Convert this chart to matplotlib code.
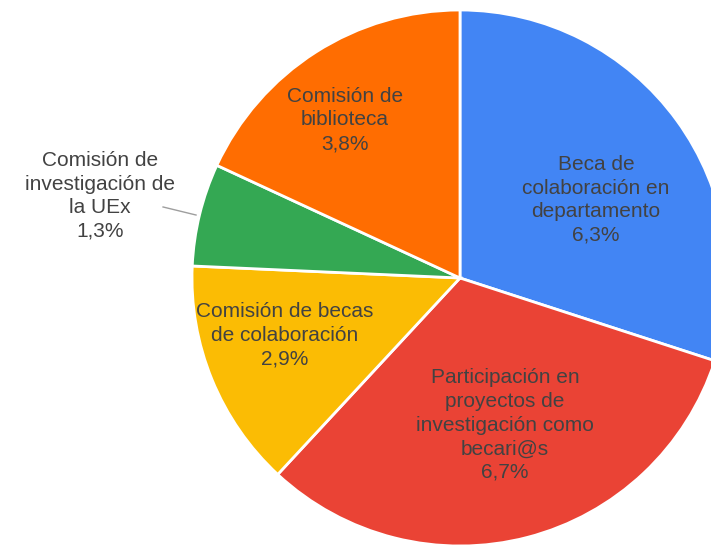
import matplotlib
matplotlib.use("Agg")
import matplotlib.pyplot as plt

categories = ["Beca de\ncolaboración en\ndepartamento",
              "Participación en\nproyectos de\ninvestigación como\nbecari@s",
              "Comisión de becas\nde colaboración",
              "Comisión de\ninvestigación de\nla UEx",
              "Comisión de\nbiblioteca"]
values = [6.3, 6.7, 2.9, 1.3, 3.8]
colors = ["#4285F4", "#EA4335", "#FBBC04", "#34A853", "#FF6D01"]

# label centres (fraction of radius, relative to pie centre)
label_pos = [(0.507, 0.291), (0.168, -0.549), (-0.653, -0.213), (-1.343, 0.306), (-0.429, 0.590)]

plt.rcParams['font.family'] = ['Liberation Sans', 'DejaVu Sans']

W, H = 711, 545
fig = plt.figure(figsize=(W / 100, H / 100), dpi=100)
cx, cy, R = 460, 278, 268
ax = fig.add_axes([(cx - R) / W, (H - cy - R) / H, 2 * R / W, 2 * R / H])

wedges, _ = ax.pie(values, colors=colors, startangle=90, counterclock=False,
                   radius=1, wedgeprops=dict(edgecolor='white', linewidth=2))
for w in wedges:
    w.set_clip_on(False)
ax.set_xlim(-1, 1)
ax.set_ylim(-1, 1)
ax.set_aspect('equal')
ax.axis('off')

for i, (cat, v) in enumerate(zip(categories, values)):
    x, y = label_pos[i]
    txt = f"{cat}\n{str(v).replace('.', ',')}%"
    ax.text(x, y, txt, ha='center', va='center', fontsize=15, color='#424242',
            linespacing=1.31, clip_on=False)

# leader line for the small slice
ax.plot([-1.108, -0.985], [0.265, 0.235], color='#9e9e9e', lw=1, clip_on=False)

fig.savefig("out.png", dpi=100)
